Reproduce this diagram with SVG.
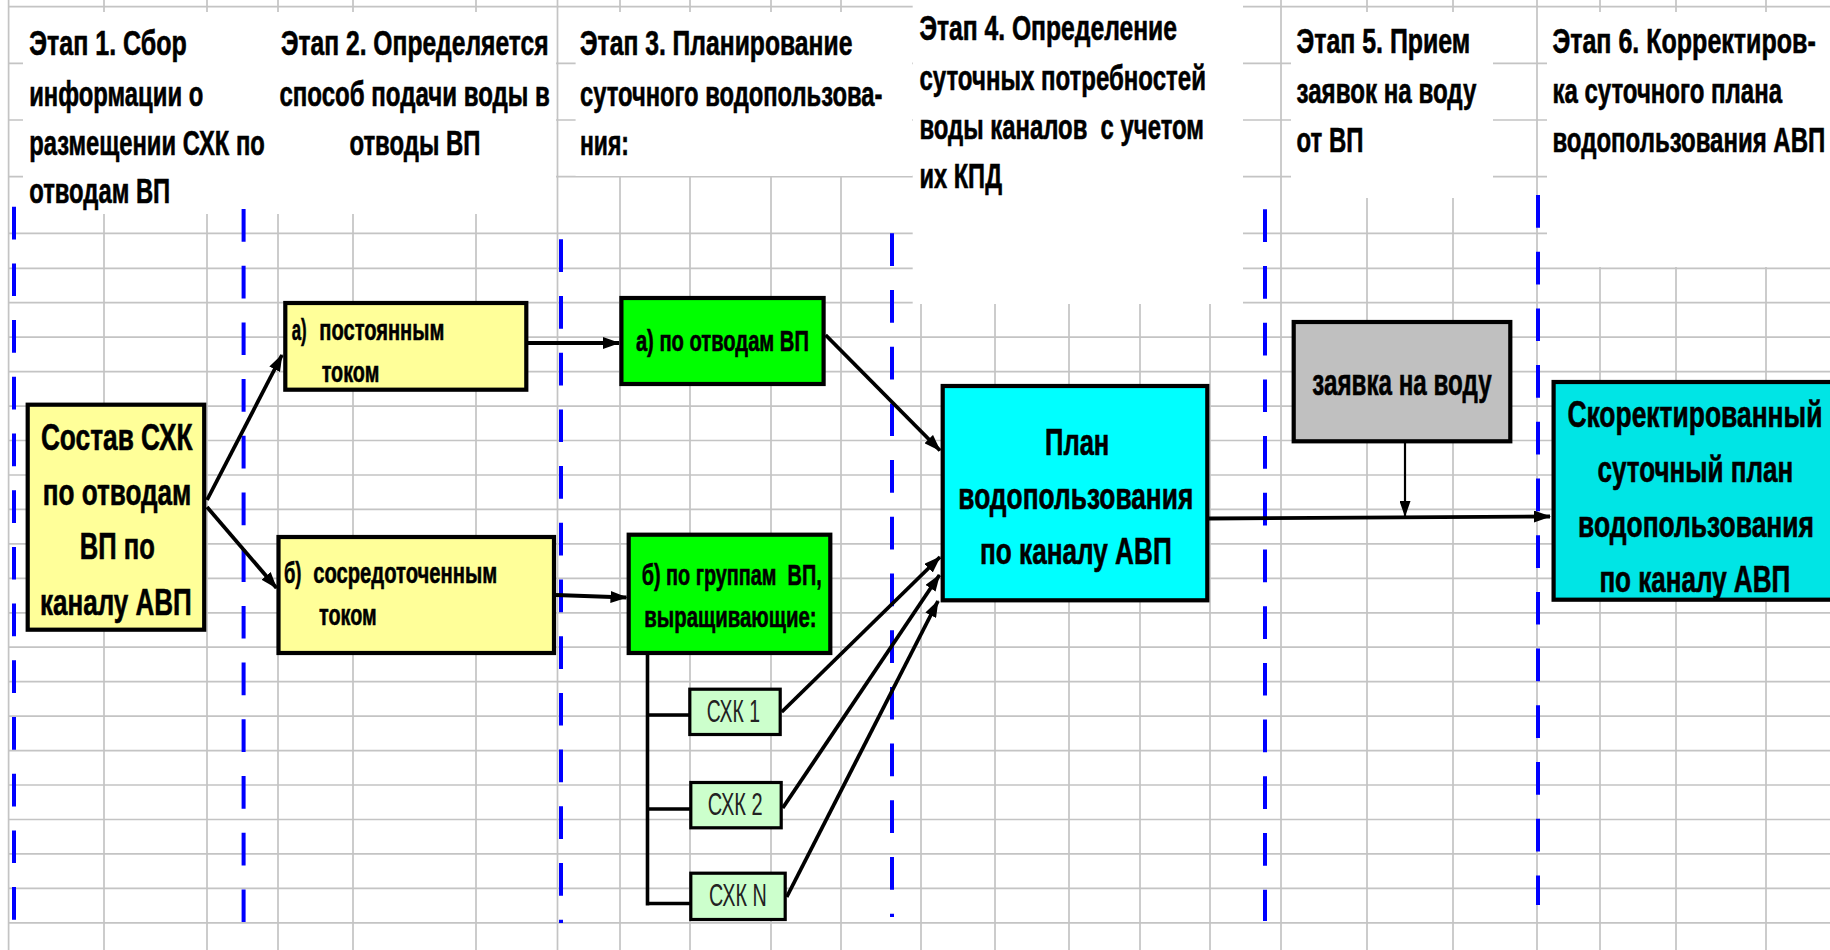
<svg xmlns="http://www.w3.org/2000/svg" width="1830" height="950" viewBox="0 0 1830 950">
  <style>
    .grid { stroke: #c4c4c4; stroke-width: 1.7; fill: none; }
    .stage { stroke: #0000ff; stroke-width: 4; stroke-dasharray: 32.7 24; fill: none; }
    .hdr { font-family: "Liberation Sans", Arial, sans-serif; font-weight: bold; font-size: 35px; fill: #000; stroke: #000; stroke-width: 0.6; }
    .b { font-family: "Liberation Sans", Arial, sans-serif; font-weight: bold; fill: #000; stroke: #000; stroke-width: 0.6; }
    .n { font-family: "Liberation Sans", Arial, sans-serif; font-weight: normal; fill: #222; font-size: 32px; }
    .box { stroke: #000; stroke-width: 4.2; }
    .sbox { stroke: #000; stroke-width: 3.2; }
    .conn { stroke: #000; stroke-width: 3.8; fill: none; marker-end: url(#arrow); }
    .thin { stroke: #000; stroke-width: 2.2; fill: none; marker-end: url(#arrowThin); }
    .tree { stroke: #000; stroke-width: 3.6; fill: none; }
  </style>
  <defs>
    <marker id="arrow" markerUnits="userSpaceOnUse" markerWidth="17" markerHeight="12" refX="16" refY="6" orient="auto">
      <path d="M0,0 L17,6 L0,12 z" fill="#000"/>
    </marker>
    <marker id="arrowThin" markerUnits="userSpaceOnUse" markerWidth="16" markerHeight="11" refX="15" refY="5.5" orient="auto">
      <path d="M0,0 L16,5.5 L0,11 z" fill="#000"/>
    </marker>
  </defs>

  <rect x="0" y="0" width="1830" height="950" fill="#fff"/>

  <!-- spreadsheet grid -->
  <g id="grid">
    <path class="grid" d="M8.6,6.7H1830 M8.6,63.3H1830 M8.6,120H1830 M8.6,176.7H1830 M8.6,233.3H1830 M8.6,268.3H1830
      M8.6,302.7H1830 M8.6,337.2H1830 M8.6,371.6H1830 M8.6,406.1H1830 M8.6,440.5H1830 M8.6,475H1830
      M8.6,509.4H1830 M8.6,543.9H1830 M8.6,578.3H1830 M8.6,612.8H1830 M8.6,647.2H1830 M8.6,681.7H1830
      M8.6,716.1H1830 M8.6,750.6H1830 M8.6,785H1830 M8.6,819.5H1830 M8.6,853.9H1830 M8.6,888.4H1830 M8.6,922.8H1830"/>
    <path class="grid" d="M8.6,0V950 M104,0V950 M207,0V950 M278,0V950 M353,0V950 M476,0V950 M557.5,0V950
      M620,0V950 M690,0V950 M771,0V950 M841,0V950 M921,0V950 M995,0V950 M1069,0V950 M1140,0V950 M1210,0V950
      M1281,0V950 M1367,0V950 M1453,0V950 M1537,0V950 M1600,0V950 M1676,0V950 M1766,0V950"/>
    <!-- white cells behind the stage headings -->
    <rect x="23" y="12" width="533" height="202" fill="#fff"/>
    <rect x="575.6" y="12" width="336.4" height="164" fill="#fff"/>
    <rect x="912.7" y="0" width="330.3" height="304" fill="#fff"/>
    <rect x="1291" y="12" width="202" height="186" fill="#fff"/>
    <rect x="1547" y="12" width="283" height="255" fill="#fff"/>
  </g>

  <!-- stage separators -->
  <g id="separators">
    <line class="stage" x1="14" y1="206.7" x2="14" y2="920"/>
    <line class="stage" x1="243.6" y1="209" x2="243.6" y2="922"/>
    <line class="stage" x1="561" y1="239.3" x2="561" y2="923"/>
    <line class="stage" x1="892" y1="233.3" x2="892" y2="917"/>
    <line class="stage" x1="1265" y1="209.3" x2="1265" y2="921"/>
    <line class="stage" x1="1538" y1="195" x2="1538" y2="905"/>
  </g>

  <!-- stage headings -->
  <g id="stage1-heading" class="hdr">
    <text x="29.2" y="55" textLength="157.6" lengthAdjust="spacingAndGlyphs">Этап 1. Сбор</text>
    <text x="29.2" y="106" textLength="174" lengthAdjust="spacingAndGlyphs">информации о</text>
    <text x="29.2" y="155" textLength="235.6" lengthAdjust="spacingAndGlyphs">размещении СХК по</text>
    <text x="29.2" y="203.3" textLength="141" lengthAdjust="spacingAndGlyphs">отводам ВП</text>
  </g>
  <g id="stage2-heading" class="hdr">
    <text x="281" y="55" textLength="267.6" lengthAdjust="spacingAndGlyphs">Этап 2. Определяется</text>
    <text x="279.4" y="106" textLength="270.4" lengthAdjust="spacingAndGlyphs">способ подачи воды в</text>
    <text x="349.4" y="155" textLength="131" lengthAdjust="spacingAndGlyphs">отводы ВП</text>
  </g>
  <g id="stage3-heading" class="hdr">
    <text x="580" y="55" textLength="272.4" lengthAdjust="spacingAndGlyphs">Этап 3. Планирование</text>
    <text x="580" y="106" textLength="302.3" lengthAdjust="spacingAndGlyphs">суточного водопользова-</text>
    <text x="580" y="155" textLength="49" lengthAdjust="spacingAndGlyphs">ния:</text>
  </g>
  <g id="stage4-heading" class="hdr">
    <text x="919.4" y="40" textLength="257.6" lengthAdjust="spacingAndGlyphs">Этап 4. Определение</text>
    <text x="919.4" y="90" textLength="286.6" lengthAdjust="spacingAndGlyphs">суточных потребностей</text>
    <text x="919.4" y="139.3" textLength="284.6" lengthAdjust="spacingAndGlyphs" xml:space="preserve">воды каналов  с учетом</text>
    <text x="919.4" y="188.3" textLength="82.6" lengthAdjust="spacingAndGlyphs">их КПД</text>
  </g>
  <g id="stage5-heading" class="hdr">
    <text x="1296.5" y="53.3" textLength="173.8" lengthAdjust="spacingAndGlyphs">Этап 5. Прием</text>
    <text x="1296.5" y="102.7" textLength="179.9" lengthAdjust="spacingAndGlyphs">заявок на воду</text>
    <text x="1296.5" y="151.7" textLength="66.9" lengthAdjust="spacingAndGlyphs">от ВП</text>
  </g>
  <g id="stage6-heading" class="hdr">
    <text x="1552.4" y="53.3" textLength="263.4" lengthAdjust="spacingAndGlyphs">Этап 6. Корректиров-</text>
    <text x="1552.4" y="103.3" textLength="229.6" lengthAdjust="spacingAndGlyphs">ка суточного плана</text>
    <text x="1552.4" y="151.7" textLength="272.9" lengthAdjust="spacingAndGlyphs">водопользования АВП</text>
  </g>

  <!-- connectors -->
  <g id="connectors">
    <line class="conn" x1="207" y1="500" x2="282" y2="355"/>
    <line class="conn" x1="207" y1="507" x2="276.5" y2="588"/>
    <line class="conn" x1="528" y1="343" x2="619" y2="343"/>
    <line class="conn" x1="556" y1="595" x2="626.5" y2="597.5"/>
    <line class="conn" x1="825.6" y1="335" x2="940" y2="450.5"/>
    <line class="conn" x1="781.7" y1="712" x2="940" y2="557"/>
    <line class="conn" x1="782.7" y1="808" x2="939.5" y2="575"/>
    <line class="conn" x1="786.7" y1="897" x2="938" y2="601"/>
    <line class="conn" x1="1209" y1="518.5" x2="1550" y2="516.5"/>
    <line class="thin" x1="1405" y1="443" x2="1405" y2="516"/>
    <path class="tree" d="M647.5,655 V905.5 M646,715 H689 M646,809 H690 M646,903.5 H690"/>
  </g>

  <!-- nodes -->
  <g id="node-composition">
    <rect class="box" x="27.7" y="404.7" width="176.5" height="225" fill="#ffff99"/>
    <g class="b" font-size="37">
      <text x="40.9" y="450" textLength="151.7" lengthAdjust="spacingAndGlyphs">Состав СХК</text>
      <text x="42.8" y="505" textLength="148.6" lengthAdjust="spacingAndGlyphs">по отводам</text>
      <text x="79.8" y="559.3" textLength="75" lengthAdjust="spacingAndGlyphs">ВП по</text>
      <text x="40" y="615" textLength="151.8" lengthAdjust="spacingAndGlyphs">каналу АВП</text>
    </g>
  </g>

  <g id="node-constant-flow">
    <rect class="box" x="285.3" y="303" width="241" height="86.7" fill="#ffff99"/>
    <g class="b" font-size="29">
      <text x="291.7" y="340" textLength="15" lengthAdjust="spacingAndGlyphs">а)</text>
      <text x="319.3" y="340" textLength="125" lengthAdjust="spacingAndGlyphs">постоянным</text>
      <text x="321.7" y="381.7" textLength="57.6" lengthAdjust="spacingAndGlyphs">током</text>
    </g>
  </g>

  <g id="node-concentrated-flow">
    <rect class="box" x="278.5" y="537" width="275.5" height="116" fill="#ffff99"/>
    <g class="b" font-size="29">
      <text x="284" y="583.3" textLength="17.5" lengthAdjust="spacingAndGlyphs">б)</text>
      <text x="313.2" y="583.3" textLength="184" lengthAdjust="spacingAndGlyphs">сосредоточенным</text>
      <text x="319" y="625" textLength="57.6" lengthAdjust="spacingAndGlyphs">током</text>
    </g>
  </g>

  <g id="node-by-outlets">
    <rect class="box" x="621.4" y="298" width="202.2" height="86" fill="#00ff00"/>
    <text class="b" font-size="29" x="635.9" y="351" textLength="173" lengthAdjust="spacingAndGlyphs">а) по отводам ВП</text>
  </g>

  <g id="node-by-groups">
    <rect class="box" x="628.7" y="534.7" width="201.6" height="118.3" fill="#00ff00"/>
    <g class="b" font-size="30">
      <text x="641.7" y="585" textLength="180" lengthAdjust="spacingAndGlyphs" xml:space="preserve">б) по группам  ВП,</text>
      <text x="644.3" y="627.3" textLength="172.3" lengthAdjust="spacingAndGlyphs">выращивающие:</text>
    </g>
  </g>

  <g id="node-crop-1">
    <rect class="sbox" x="689.8" y="689.2" width="90.4" height="45.3" fill="#ccffcc"/>
    <text class="n" x="706.7" y="721.7" textLength="53.3" lengthAdjust="spacingAndGlyphs">СХК 1</text>
  </g>
  <g id="node-crop-2">
    <rect class="sbox" x="690.8" y="782.5" width="90.4" height="45.3" fill="#ccffcc"/>
    <text class="n" x="707.7" y="815" textLength="55" lengthAdjust="spacingAndGlyphs">СХК 2</text>
  </g>
  <g id="node-crop-n">
    <rect class="sbox" x="690.8" y="873.2" width="94.4" height="46.3" fill="#ccffcc"/>
    <text class="n" x="709" y="906" textLength="57.7" lengthAdjust="spacingAndGlyphs">СХК N</text>
  </g>

  <g id="node-water-plan">
    <rect class="box" x="942.7" y="386" width="264.6" height="214.3" fill="#00ffff"/>
    <g class="b" font-size="37">
      <text x="1045" y="455" textLength="64.3" lengthAdjust="spacingAndGlyphs">План</text>
      <text x="958.3" y="509.3" textLength="235" lengthAdjust="spacingAndGlyphs">водопользования</text>
      <text x="980" y="564" textLength="191.7" lengthAdjust="spacingAndGlyphs">по каналу АВП</text>
    </g>
  </g>

  <g id="node-water-request">
    <rect class="box" x="1293.7" y="322" width="216.6" height="119.3" fill="#c0c0c0"/>
    <text class="b" font-size="37" x="1312.3" y="395" textLength="179.3" lengthAdjust="spacingAndGlyphs">заявка на воду</text>
  </g>

  <g id="node-corrected-plan">
    <rect class="box" x="1553.6" y="382" width="290" height="217.7" fill="#00e5e5"/>
    <g class="b" font-size="36">
      <text x="1567.4" y="426.7" textLength="255" lengthAdjust="spacingAndGlyphs">Скоректированный</text>
      <text x="1597.5" y="481.7" textLength="195.7" lengthAdjust="spacingAndGlyphs">суточный план</text>
      <text x="1578" y="536.7" textLength="236" lengthAdjust="spacingAndGlyphs">водопользования</text>
      <text x="1599.4" y="591.7" textLength="190.8" lengthAdjust="spacingAndGlyphs">по каналу АВП</text>
    </g>
  </g>
</svg>
